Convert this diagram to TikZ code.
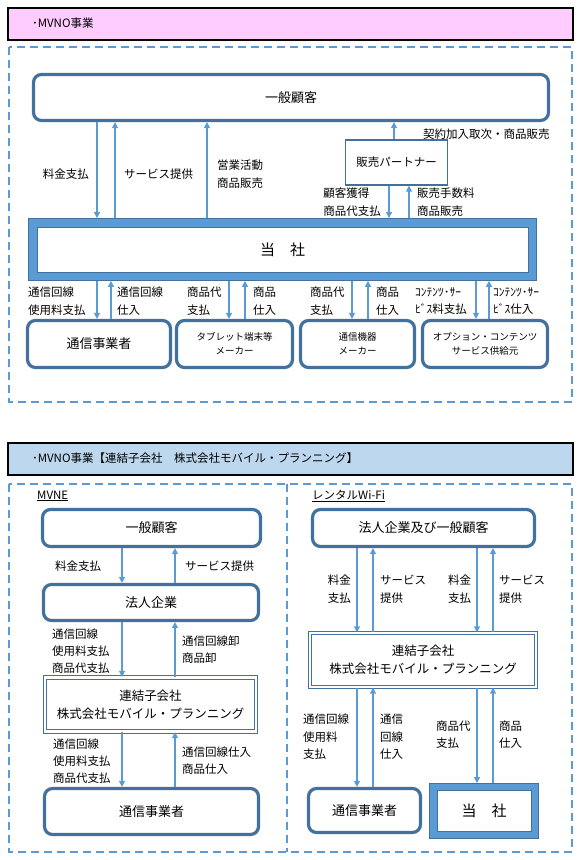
\documentclass[tikz,border=0pt]{standalone}
\usepackage{fontspec}
\setmainfont{Noto Sans CJK JP}
\usepackage{xcolor}
\usepackage{tikz}
\usetikzlibrary{arrows.meta}

\definecolor{lineblue}{HTML}{5B9BD5}
\definecolor{boxblue}{HTML}{41719C}
\definecolor{hdrpink}{HTML}{FFCCFF}
\definecolor{hdrblue}{HTML}{BDD7EE}

\begin{document}
\begin{tikzpicture}[x=1pt, y=-1pt,
		flow/.style={-{Triangle[length=6pt,width=6pt]}, line width=1.3pt, lineblue},
		hdr/.style={draw=black, line width=2pt, inner xsep=24pt, inner ysep=0pt, minimum height=32pt, text width=517pt, align=left, font=\fontsize{11.5}{13}\selectfont},
		dashframe/.style={lineblue, line width=1.4pt, dash pattern=on 8pt off 5pt},
		party/.style={draw=boxblue, line width=3.2pt, rounded corners=8pt, fill=white, inner sep=0pt, align=center, font=\fontsize{13}{16}\selectfont},
		small/.style={font=\fontsize{9.5}{14}\selectfont},
		plain/.style={draw=boxblue, line width=1.3pt, fill=white, inner sep=0pt, font=\fontsize{11.5}{14}\selectfont},
		group/.style={draw=boxblue, line width=1.2pt, double=white, double distance=2.4pt, fill=white, inner sep=0pt, align=center, font=\fontsize{12.5}{18}\selectfont},
		ourco/.style={draw=boxblue, line width=0.8pt, fill=lineblue, inner sep=0pt},
		ourin/.style={draw=boxblue, line width=0.8pt, fill=white, inner sep=0pt, font=\fontsize{15}{18}\selectfont},
		lbl/.style={inner sep=0pt, align=left, font=\fontsize{11.5}{17.5}\selectfont}]
	\useasboundingbox (0,0) rectangle (580,860);

	% MVNO
	\node[hdr, fill=hdrpink] (hdrA) at (290.5,23.5) {･MVNO事業};
	\draw[dashframe] (9,47) rectangle (572,402);
	\node[party, minimum width=515pt, minimum height=46pt] (kokyaku) at (291,97.5) {一般顧客};
	\node[plain, minimum width=102pt, minimum height=45pt] (partner) at (396.5,162.5) {販売パートナー};
	\node[ourco, minimum width=508pt, minimum height=62pt] (tosha) at (282.5,249.5) {};
	\node[ourin, minimum width=491pt, minimum height=45pt] (toshain) at (tosha) {当　社};
	\node[party, minimum width=143pt, minimum height=47pt] (tsushin) at (99,344) {通信事業者};
	\node[party, small, minimum width=116pt, minimum height=47pt] (tablet) at (234.5,344) {タブレット端末等\\メーカー};
	\node[party, small, minimum width=114pt, minimum height=47pt] (kiki) at (357.5,344) {通信機器\\メーカー};
	\node[party, small, minimum width=125pt, minimum height=47pt] (option) at (485,344) {オプション・コンテンツ\\サービス供給元};

	\draw[flow] (kokyaku.south -| 97,0) -- (tosha.north -| 97,0);
	\draw[flow] (tosha.north -| 115,0) -- (kokyaku.south -| 115,0);
	\draw[flow] (tosha.north -| 207,0) -- (kokyaku.south -| 207,0);
	\draw[flow] (partner.north -| 394,0) -- (kokyaku.south -| 394,0);
	\draw[flow] (partner.south -| 389,0) -- (tosha.north -| 389,0);
	\draw[flow] (tosha.north -| 409,0) -- (partner.south -| 409,0);
	\node[lbl, anchor=east] (l1) at (89,174) {料金支払};
	\node[lbl, anchor=west] (l2) at (124,174) {サービス提供};
	\node[lbl, anchor=west] (l3) at (217,174) {営業活動\\商品販売};
	\node[lbl, anchor=west] (l4) at (423,134) {契約加入取次・商品販売};
	\node[lbl, anchor=east] (l5) at (381,202) {顧客獲得\\商品代支払};
	\node[lbl, anchor=west] (l6) at (417,202) {販売手数料\\商品販売};

	\draw[flow] (tosha.south -| 97,0) -- (tsushin.north -| 97,0);
	\draw[flow] (tsushin.north -| 111,0) -- (tosha.south -| 111,0);
	\draw[flow] (tosha.south -| 229,0) -- (tablet.north -| 229,0);
	\draw[flow] (tablet.north -| 245,0) -- (tosha.south -| 245,0);
	\draw[flow] (tosha.south -| 352,0) -- (kiki.north -| 352,0);
	\draw[flow] (kiki.north -| 368,0) -- (tosha.south -| 368,0);
	\draw[flow] (tosha.south -| 476,0) -- (option.north -| 476,0);
	\draw[flow] (option.north -| 489,0) -- (tosha.south -| 489,0);
	\node[lbl, anchor=west] (l7) at (28,301) {通信回線\\使用料支払};
	\node[lbl, anchor=west] (l8) at (117,301) {通信回線\\仕入};
	\node[lbl, anchor=west] (l9) at (187,301) {商品代\\支払};
	\node[lbl, anchor=west] (l10) at (253,301) {商品\\仕入};
	\node[lbl, anchor=west] (l11) at (310,301) {商品代\\支払};
	\node[lbl, anchor=west] (l12) at (376,301) {商品\\仕入};
	\node[lbl, anchor=west] (l13) at (415,301) {ｺﾝﾃﾝﾂ･ｻｰ\\ﾋﾞｽ料支払};
	\node[lbl, anchor=west] (l14) at (493,301) {ｺﾝﾃﾝﾂ･ｻｰ\\ﾋﾞｽ仕入};

	% MVNO (subsidiary)
	\node[hdr, fill=hdrblue] (hdrB) at (290.5,458.5) {･MVNO事業【連結子会社　株式会社モバイル・プランニング】};
	\draw[dashframe] (9,484) rectangle (572,852);
	\draw[dashframe] (287,484) -- (287,852);

	% MVNE
	\node[lbl, anchor=west] (mvne) at (37,496) {\underline{MVNE}};
	\node[party, minimum width=218pt, minimum height=37pt] (bkokyaku) at (151.5,528) {一般顧客};
	\node[party, minimum width=215pt, minimum height=36pt] (bhojin) at (151,602.5) {法人企業};
	\node[group, minimum width=211pt, minimum height=54pt] (bgroup) at (150.5,704.5) {連結子会社\\株式会社モバイル・プランニング};
	\node[party, minimum width=214pt, minimum height=46pt] (btsushin) at (151.5,811.5) {通信事業者};
	\draw[flow] (bkokyaku.south -| 122,0) -- (bhojin.north -| 122,0);
	\draw[flow] (bhojin.north -| 175,0) -- (bkokyaku.south -| 175,0);
	\draw[flow] (bhojin.south -| 122,0) -- (bgroup.north -| 122,0);
	\draw[flow] (bgroup.north -| 175,0) -- (bhojin.south -| 175,0);
	\draw[flow] (bgroup.south -| 122,0) -- (btsushin.north -| 122,0);
	\draw[flow] (btsushin.north -| 175,0) -- (bgroup.south -| 175,0);
	\node[lbl, anchor=west] (m1) at (55,566) {料金支払};
	\node[lbl, anchor=west] (m2) at (185,566) {サービス提供};
	\node[lbl, anchor=west, font=\fontsize{11.5}{17}\selectfont] (m3) at (52,651) {通信回線\\使用料支払\\商品代支払};
	\node[lbl, anchor=west, font=\fontsize{11.5}{17}\selectfont] (m4) at (182,649.5) {通信回線卸\\商品卸};
	\node[lbl, anchor=west, font=\fontsize{11.5}{17}\selectfont] (m5) at (53,761) {通信回線\\使用料支払\\商品代支払};
	\node[lbl, anchor=west, font=\fontsize{11.5}{17}\selectfont] (m6) at (182,761) {通信回線仕入\\商品仕入};

	% rental Wi-Fi
	\node[lbl, anchor=west] (wifi) at (312,496) {\underline{レンタルWi-Fi}};
	\node[party, minimum width=222pt, minimum height=37pt] (ckokyaku) at (423.5,528) {法人企業及び一般顧客};
	\node[group, minimum width=226pt, minimum height=54pt] (cgroup) at (423,660) {連結子会社\\株式会社モバイル・プランニング};
	\node[party, minimum width=112pt, minimum height=44pt] (ctsushin) at (364.5,810.5) {通信事業者};
	\node[ourco, minimum width=109pt, minimum height=55pt] (ctosha) at (484,811) {};
	\node[ourin, minimum width=94pt, minimum height=41pt] (ctoshain) at (ctosha) {当　社};
	\draw[flow] (ckokyaku.south -| 357,0) -- (cgroup.north -| 357,0);
	\draw[flow] (cgroup.north -| 373,0) -- (ckokyaku.south -| 373,0);
	\draw[flow] (ckokyaku.south -| 477,0) -- (cgroup.north -| 477,0);
	\draw[flow] (cgroup.north -| 493,0) -- (ckokyaku.south -| 493,0);
	\draw[flow] (cgroup.south -| 357,0) -- (ctsushin.north -| 357,0);
	\draw[flow] (ctsushin.north -| 373,0) -- (cgroup.south -| 373,0);
	\draw[flow] (cgroup.south -| 477,0) -- (ctosha.north -| 477,0);
	\draw[flow] (ctosha.north -| 493,0) -- (cgroup.south -| 493,0);
	\node[lbl, anchor=east] (w1) at (351,589) {料金\\支払};
	\node[lbl, anchor=west] (w2) at (380,589) {サービス\\提供};
	\node[lbl, anchor=west] (w3) at (448,589) {料金\\支払};
	\node[lbl, anchor=west] (w4) at (499,589) {サービス\\提供};
	\node[lbl, anchor=west] (w5) at (303,737) {通信回線\\使用料\\支払};
	\node[lbl, anchor=west] (w6) at (380,737) {通信\\回線\\仕入};
	\node[lbl, anchor=west] (w7) at (436,734.5) {商品代\\支払};
	\node[lbl, anchor=west] (w8) at (499,734.5) {商品\\仕入};
\end{tikzpicture}
\end{document}
